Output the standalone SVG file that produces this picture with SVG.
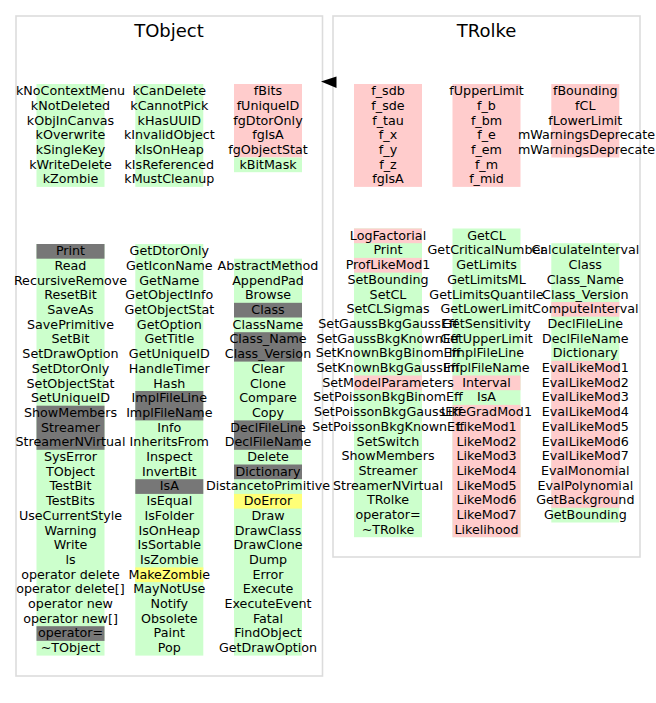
<svg xmlns="http://www.w3.org/2000/svg" width="656" height="703" viewBox="0 0 656 703">
<style>
text{font-family:"DejaVu Sans","Liberation Sans",sans-serif;font-size:12.7px;fill:#000;text-anchor:middle}
.title{font-size:18px}
.panel{fill:#fff;stroke:#dcdcdc;stroke-width:1.6}
.g{fill:#ccffcc}
.r{fill:#ffcccc}
.k{fill:#777777}
.y{fill:#ffff77}
</style>
<rect width="656" height="703" fill="#fff"/>
<g id="TObject">
<rect class="panel" x="16" y="16" width="306.5" height="660"/>
<text class="title" x="169" y="37">TObject</text>
<rect class="g" x="36.5" y="84" width="68" height="102.9"/>
<rect class="g" x="135.3" y="84" width="68" height="102.9"/>
<rect class="r" x="234" y="84" width="68" height="73.5"/>
<rect class="g" x="234" y="157.5" width="68" height="14.7"/>
<g>
<text x="70.5" y="95.2">kNoContextMenu</text>
<text x="70.5" y="109.9">kNotDeleted</text>
<text x="70.5" y="124.6">kObjInCanvas</text>
<text x="70.5" y="139.3">kOverwrite</text>
<text x="70.5" y="154">kSingleKey</text>
<text x="70.5" y="168.7">kWriteDelete</text>
<text x="70.5" y="183.4">kZombie</text>
<text x="169.3" y="95.2">kCanDelete</text>
<text x="169.3" y="109.9">kCannotPick</text>
<text x="169.3" y="124.6">kHasUUID</text>
<text x="169.3" y="139.3">kInvalidObject</text>
<text x="169.3" y="154">kIsOnHeap</text>
<text x="169.3" y="168.7">kIsReferenced</text>
<text x="169.3" y="183.4">kMustCleanup</text>
<text x="268" y="95.2">fBits</text>
<text x="268" y="109.9">fUniqueID</text>
<text x="268" y="124.6">fgDtorOnly</text>
<text x="268" y="139.3">fgIsA</text>
<text x="268" y="154">fgObjectStat</text>
<text x="268" y="168.7">kBitMask</text>
</g>
<rect class="g" x="36.5" y="244" width="68" height="411.6"/>
<rect class="k" x="36.5" y="244" width="68" height="14.7"/>
<rect class="k" x="36.5" y="405.7" width="68" height="44.1"/>
<rect class="k" x="36.5" y="626.2" width="68" height="14.7"/>
<rect class="g" x="135.3" y="244" width="68" height="411.6"/>
<rect class="k" x="135.3" y="391" width="68" height="29.4"/>
<rect class="k" x="135.3" y="479.2" width="68" height="14.7"/>
<rect class="y" x="135.3" y="567.4" width="68" height="14.7"/>
<rect class="g" x="234" y="258.7" width="68" height="396.9"/>
<rect class="k" x="234" y="302.8" width="68" height="14.7"/>
<rect class="k" x="234" y="332.2" width="68" height="29.4"/>
<rect class="k" x="234" y="420.4" width="68" height="29.4"/>
<rect class="k" x="234" y="464.5" width="68" height="14.7"/>
<rect class="y" x="234" y="493.9" width="68" height="14.7"/>
<g>
<text x="70.5" y="255.2">Print</text>
<text x="70.5" y="269.9">Read</text>
<text x="70.5" y="284.6">RecursiveRemove</text>
<text x="70.5" y="299.3">ResetBit</text>
<text x="70.5" y="314">SaveAs</text>
<text x="70.5" y="328.7">SavePrimitive</text>
<text x="70.5" y="343.4">SetBit</text>
<text x="70.5" y="358.1">SetDrawOption</text>
<text x="70.5" y="372.8">SetDtorOnly</text>
<text x="70.5" y="387.5">SetObjectStat</text>
<text x="70.5" y="402.2">SetUniqueID</text>
<text x="70.5" y="416.9">ShowMembers</text>
<text x="70.5" y="431.6">Streamer</text>
<text x="70.5" y="446.3">StreamerNVirtual</text>
<text x="70.5" y="461">SysError</text>
<text x="70.5" y="475.7">TObject</text>
<text x="70.5" y="490.4">TestBit</text>
<text x="70.5" y="505.1">TestBits</text>
<text x="70.5" y="519.8">UseCurrentStyle</text>
<text x="70.5" y="534.5">Warning</text>
<text x="70.5" y="549.2">Write</text>
<text x="70.5" y="563.9">ls</text>
<text x="70.5" y="578.6">operator delete</text>
<text x="70.5" y="593.3">operator delete[]</text>
<text x="70.5" y="608">operator new</text>
<text x="70.5" y="622.7">operator new[]</text>
<text x="70.5" y="637.4">operator=</text>
<text x="70.5" y="652.1">~TObject</text>
<text x="169.3" y="255.2">GetDtorOnly</text>
<text x="169.3" y="269.9">GetIconName</text>
<text x="169.3" y="284.6">GetName</text>
<text x="169.3" y="299.3">GetObjectInfo</text>
<text x="169.3" y="314">GetObjectStat</text>
<text x="169.3" y="328.7">GetOption</text>
<text x="169.3" y="343.4">GetTitle</text>
<text x="169.3" y="358.1">GetUniqueID</text>
<text x="169.3" y="372.8">HandleTimer</text>
<text x="169.3" y="387.5">Hash</text>
<text x="169.3" y="402.2">ImplFileLine</text>
<text x="169.3" y="416.9">ImplFileName</text>
<text x="169.3" y="431.6">Info</text>
<text x="169.3" y="446.3">InheritsFrom</text>
<text x="169.3" y="461">Inspect</text>
<text x="169.3" y="475.7">InvertBit</text>
<text x="169.3" y="490.4">IsA</text>
<text x="169.3" y="505.1">IsEqual</text>
<text x="169.3" y="519.8">IsFolder</text>
<text x="169.3" y="534.5">IsOnHeap</text>
<text x="169.3" y="549.2">IsSortable</text>
<text x="169.3" y="563.9">IsZombie</text>
<text x="169.3" y="578.6">MakeZombie</text>
<text x="169.3" y="593.3">MayNotUse</text>
<text x="169.3" y="608">Notify</text>
<text x="169.3" y="622.7">Obsolete</text>
<text x="169.3" y="637.4">Paint</text>
<text x="169.3" y="652.1">Pop</text>
<text x="268" y="269.9">AbstractMethod</text>
<text x="268" y="284.6">AppendPad</text>
<text x="268" y="299.3">Browse</text>
<text x="268" y="314">Class</text>
<text x="268" y="328.7">ClassName</text>
<text x="268" y="343.4">Class_Name</text>
<text x="268" y="358.1">Class_Version</text>
<text x="268" y="372.8">Clear</text>
<text x="268" y="387.5">Clone</text>
<text x="268" y="402.2">Compare</text>
<text x="268" y="416.9">Copy</text>
<text x="268" y="431.6">DeclFileLine</text>
<text x="268" y="446.3">DeclFileName</text>
<text x="268" y="461">Delete</text>
<text x="268" y="475.7">Dictionary</text>
<text x="268" y="490.4">DistancetoPrimitive</text>
<text x="268" y="505.1">DoError</text>
<text x="268" y="519.8">Draw</text>
<text x="268" y="534.5">DrawClass</text>
<text x="268" y="549.2">DrawClone</text>
<text x="268" y="563.9">Dump</text>
<text x="268" y="578.6">Error</text>
<text x="268" y="593.3">Execute</text>
<text x="268" y="608">ExecuteEvent</text>
<text x="268" y="622.7">Fatal</text>
<text x="268" y="637.4">FindObject</text>
<text x="268" y="652.1">GetDrawOption</text>
</g>
</g>
<g id="TRolke">
<rect class="panel" x="333" y="16" width="307" height="541"/>
<text class="title" x="486.5" y="37">TRolke</text>
<rect class="r" x="354" y="84" width="68" height="102.9"/>
<rect class="r" x="452.5" y="84" width="68" height="102.9"/>
<rect class="r" x="551.3" y="84" width="68" height="73.5"/>
<g>
<text x="388" y="95.2">f_sdb</text>
<text x="388" y="109.9">f_sde</text>
<text x="388" y="124.6">f_tau</text>
<text x="388" y="139.3">f_x</text>
<text x="388" y="154">f_y</text>
<text x="388" y="168.7">f_z</text>
<text x="388" y="183.4">fgIsA</text>
<text x="486.5" y="95.2">fUpperLimit</text>
<text x="486.5" y="109.9">f_b</text>
<text x="486.5" y="124.6">f_bm</text>
<text x="486.5" y="139.3">f_e</text>
<text x="486.5" y="154">f_em</text>
<text x="486.5" y="168.7">f_m</text>
<text x="486.5" y="183.4">f_mid</text>
<text x="585.3" y="95.2">fBounding</text>
<text x="585.3" y="109.9">fCL</text>
<text x="585.3" y="124.6">fLowerLimit</text>
<text x="518" y="139.3" style="text-anchor:start">mWarningsDeprecate</text>
<text x="518" y="154" style="text-anchor:start">mWarningsDeprecate</text>
</g>
<rect class="g" x="354" y="228.5" width="68" height="308.7"/>
<rect class="r" x="354" y="228.5" width="68" height="14.7"/>
<rect class="r" x="354" y="257.9" width="68" height="14.7"/>
<rect class="r" x="354" y="375.5" width="68" height="14.7"/>
<rect class="g" x="452.5" y="228.5" width="68" height="308.7"/>
<rect class="r" x="452.5" y="375.5" width="68" height="14.7"/>
<rect class="r" x="452.5" y="404.9" width="68" height="132.3"/>
<rect class="g" x="551.3" y="243.2" width="68" height="279.3"/>
<rect class="r" x="551.3" y="302" width="68" height="14.7"/>
<rect class="r" x="551.3" y="360.8" width="68" height="147"/>
<g>
<text x="388" y="239.7">LogFactorial</text>
<text x="388" y="254.4">Print</text>
<text x="388" y="269.1">ProfLikeMod1</text>
<text x="388" y="283.8">SetBounding</text>
<text x="388" y="298.5">SetCL</text>
<text x="388" y="313.2">SetCLSigmas</text>
<text x="388" y="327.9">SetGaussBkgGaussEff</text>
<text x="388" y="342.6">SetGaussBkgKnownEff</text>
<text x="388" y="357.3">SetKnownBkgBinomEff</text>
<text x="388" y="372">SetKnownBkgGaussEff</text>
<text x="388" y="386.7">SetModelParameters</text>
<text x="388" y="401.4">SetPoissonBkgBinomEff</text>
<text x="388" y="416.1">SetPoissonBkgGaussEff</text>
<text x="388" y="430.8">SetPoissonBkgKnownEff</text>
<text x="388" y="445.5">SetSwitch</text>
<text x="388" y="460.2">ShowMembers</text>
<text x="388" y="474.9">Streamer</text>
<text x="388" y="489.6">StreamerNVirtual</text>
<text x="388" y="504.3">TRolke</text>
<text x="388" y="519">operator=</text>
<text x="388" y="533.7">~TRolke</text>
<text x="486.5" y="239.7">GetCL</text>
<text x="486.5" y="254.4">GetCriticalNumber</text>
<text x="486.5" y="269.1">GetLimits</text>
<text x="486.5" y="283.8">GetLimitsML</text>
<text x="486.5" y="298.5">GetLimitsQuantile</text>
<text x="486.5" y="313.2">GetLowerLimit</text>
<text x="486.5" y="327.9">GetSensitivity</text>
<text x="486.5" y="342.6">GetUpperLimit</text>
<text x="486.5" y="357.3">ImplFileLine</text>
<text x="486.5" y="372">ImplFileName</text>
<text x="486.5" y="386.7">Interval</text>
<text x="486.5" y="401.4">IsA</text>
<text x="486.5" y="416.1">LikeGradMod1</text>
<text x="486.5" y="430.8">LikeMod1</text>
<text x="486.5" y="445.5">LikeMod2</text>
<text x="486.5" y="460.2">LikeMod3</text>
<text x="486.5" y="474.9">LikeMod4</text>
<text x="486.5" y="489.6">LikeMod5</text>
<text x="486.5" y="504.3">LikeMod6</text>
<text x="486.5" y="519">LikeMod7</text>
<text x="486.5" y="533.7">Likelihood</text>
<text x="585.3" y="254.4">CalculateInterval</text>
<text x="585.3" y="269.1">Class</text>
<text x="585.3" y="283.8">Class_Name</text>
<text x="585.3" y="298.5">Class_Version</text>
<text x="585.3" y="313.2">ComputeInterval</text>
<text x="585.3" y="327.9">DeclFileLine</text>
<text x="585.3" y="342.6">DeclFileName</text>
<text x="585.3" y="357.3">Dictionary</text>
<text x="585.3" y="372">EvalLikeMod1</text>
<text x="585.3" y="386.7">EvalLikeMod2</text>
<text x="585.3" y="401.4">EvalLikeMod3</text>
<text x="585.3" y="416.1">EvalLikeMod4</text>
<text x="585.3" y="430.8">EvalLikeMod5</text>
<text x="585.3" y="445.5">EvalLikeMod6</text>
<text x="585.3" y="460.2">EvalLikeMod7</text>
<text x="585.3" y="474.9">EvalMonomial</text>
<text x="585.3" y="489.6">EvalPolynomial</text>
<text x="585.3" y="504.3">GetBackground</text>
<text x="585.3" y="519">GetBounding</text>
</g>
</g>
<g id="connectors">
<polygon points="321,81.5 336.5,76.5 336.5,88" fill="#000"/>
</g>
</svg>
